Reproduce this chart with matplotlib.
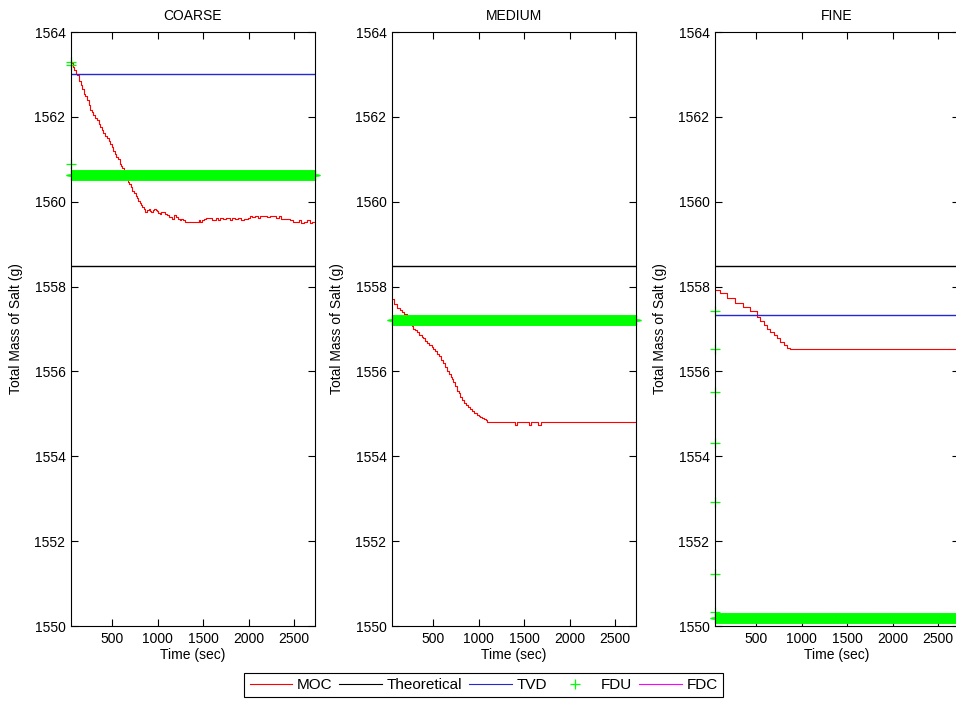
import matplotlib.pyplot as plt
from matplotlib.lines import Line2D
import numpy as np

plt.rcParams['font.family'] = ['Liberation Sans', 'DejaVu Sans']
plt.rcParams['font.size'] = 10

titles = ['COARSE', 'MEDIUM', 'FINE']
theoretical = 1558.48
tvd = {'COARSE': 1563.0, 'FINE': 1557.33}

# MOC (step curves)
moc_t = {
    'COARSE': [45, 65, 80, 95, 110, 130, 150, 170, 185, 200, 220, 240, 255, 275, 290, 310, 330,
               350, 365, 385, 400, 420, 440, 460, 475, 495, 510, 530, 545, 565, 580, 600, 610,
               625, 640, 655, 670, 685, 700, 720, 735, 755, 770, 785, 800, 815, 830, 845, 860,
               880, 900, 915, 930, 945, 960, 975, 990, 1005, 1020, 1040, 1060, 1080, 1100, 1120,
               1140, 1160, 1180, 1200, 1220, 1240, 1260, 1280, 1300, 1340, 1380, 1420, 1450, 1470,
               1490, 1510, 1530, 1560, 1600, 1640, 1660, 1690, 1720, 1750, 1790, 1820, 1850, 1880,
               1920, 1950, 1990, 2010, 2040, 2070, 2100, 2130, 2160, 2200, 2240, 2270, 2300, 2330,
               2360, 2400, 2430, 2460, 2490, 2520, 2550, 2580, 2610, 2640, 2670, 2700, 2730],
    'MEDIUM': [45, 70, 100, 130, 152, 180, 210, 240, 265, 280, 300, 320, 345, 370, 391, 410, 430,
               455, 480, 501, 520, 540, 560, 585, 611, 630, 650, 670, 690, 704, 720, 740, 760,
               780, 796, 815, 835, 855, 880, 906, 930, 950, 975, 1000, 1017, 1040, 1060, 1075,
               1090, 1110, 1400, 1425, 1550, 1570, 1650, 1680, 1700, 2730],
    'FINE': [45, 101, 174, 266, 358, 431, 505, 542, 579, 615, 652, 689, 726, 763, 800, 836, 873,
             2730],
}
moc_v = {
    'COARSE': [1563.28, 1563.18, 1563.1, 1563.02, 1562.99, 1562.85, 1562.75, 1562.66, 1562.55,
               1562.5, 1562.4, 1562.28, 1562.16, 1562.12, 1562.05, 1561.98, 1561.92, 1561.84,
               1561.75, 1561.7, 1561.61, 1561.56, 1561.5, 1561.42, 1561.37, 1561.28, 1561.2,
               1561.12, 1561.06, 1561.0, 1560.9, 1560.84, 1560.79, 1560.7, 1560.62, 1560.55,
               1560.47, 1560.42, 1560.35, 1560.26, 1560.2, 1560.14, 1560.08, 1560.02, 1559.96,
               1559.92, 1559.88, 1559.84, 1559.76, 1559.8, 1559.82, 1559.78, 1559.76, 1559.8,
               1559.84, 1559.8, 1559.78, 1559.74, 1559.72, 1559.76, 1559.76, 1559.72, 1559.68,
               1559.64, 1559.64, 1559.6, 1559.68, 1559.64, 1559.6, 1559.56, 1559.6, 1559.56,
               1559.53, 1559.53, 1559.53, 1559.53, 1559.58, 1559.53, 1559.58, 1559.6, 1559.62,
               1559.62, 1559.56, 1559.62, 1559.58, 1559.62, 1559.6, 1559.62, 1559.56, 1559.62,
               1559.6, 1559.62, 1559.56, 1559.6, 1559.62, 1559.67, 1559.64, 1559.67, 1559.62,
               1559.67, 1559.67, 1559.64, 1559.67, 1559.67, 1559.62, 1559.67, 1559.6, 1559.6,
               1559.6, 1559.56, 1559.53, 1559.53, 1559.56, 1559.5, 1559.53, 1559.56, 1559.5,
               1559.53, 1559.53],
    'MEDIUM': [1557.7, 1557.6, 1557.5, 1557.45, 1557.4, 1557.35, 1557.25, 1557.15, 1557.08, 1557.01,
               1556.98, 1556.92, 1556.86, 1556.82, 1556.78, 1556.72, 1556.66, 1556.62, 1556.58,
               1556.54, 1556.48, 1556.42, 1556.36, 1556.28, 1556.19, 1556.1, 1556.02, 1555.95,
               1555.88, 1555.83, 1555.75, 1555.65, 1555.55, 1555.48, 1555.4, 1555.32, 1555.26,
               1555.2, 1555.16, 1555.12, 1555.06, 1555.02, 1554.98, 1554.95, 1554.93, 1554.9,
               1554.87, 1554.85, 1554.81, 1554.81, 1554.73, 1554.81, 1554.73, 1554.81, 1554.73,
               1554.81, 1554.81, 1554.81],
    'FINE': [1557.93, 1557.84, 1557.72, 1557.62, 1557.52, 1557.43, 1557.29, 1557.19, 1557.09,
             1557.01, 1556.93, 1556.86, 1556.78, 1556.7, 1556.62, 1556.56, 1556.52, 1556.52],
}

# FDU: first few outputs, then settles to a constant level
fdu_start = {'COARSE': [1563.3, 1563.22, 1560.9],
             'MEDIUM': [],
             'FINE': [1557.42, 1556.52, 1555.51, 1554.31, 1552.92, 1551.22, 1550.32]}
fdu_level = {'COARSE': 1560.62, 'MEDIUM': 1557.21, 'FINE': 1550.2}
fdu_dt = 3

lefts = [71, 392, 715]
fig = plt.figure(figsize=(9.56, 7.02), dpi=100)
green = (0, 1, 0)
blue = (0.15, 0.15, 0.85)

for i, name in enumerate(titles):
    ax = fig.add_axes([lefts[i] / 956, 1 - 626 / 702, 244 / 956, 594 / 702])
    t_end = moc_t[name][-1]
    ax.plot(moc_t[name], moc_v[name], color='red', lw=0.8, drawstyle='steps-post')
    ax.axhline(theoretical, color='black', lw=1.0)
    if name in tvd:
        ax.axhline(tvd[name], color=blue, lw=1.0)
    fdu_t = np.arange(45, t_end + 1, fdu_dt)
    fdu_v = np.full(len(fdu_t), fdu_level[name])
    ax.plot(np.full(len(fdu_start[name]), 45), fdu_start[name], '+', color=green,
            ms=7, mew=0.9, clip_on=False)
    ax.plot(fdu_t, fdu_v, '+', color=green, ms=7, mew=0.9, clip_on=False)

    ax.set_xlim(45, 2730)
    ax.set_ylim(1550, 1564)
    ax.set_xticks([500, 1000, 1500, 2000, 2500])
    ax.set_yticks(range(1550, 1565, 2))
    ax.tick_params(direction='in', length=5, top=True, right=True, labelsize=10, pad=4)
    ax.set_title(name, fontsize=10, pad=9)
    ax.set_xlabel('Time (sec)', fontsize=10, labelpad=2)
    ax.set_ylabel('Total Mass of Salt (g)', fontsize=10, labelpad=8)
    for s in ax.spines.values():
        s.set_linewidth(0.8)

handles = [Line2D([], [], color='red', lw=0.8),
           Line2D([], [], color='black', lw=0.8),
           Line2D([], [], color=blue, lw=0.8),
           Line2D([], [], color=green, marker='+', ls='none', ms=7, mew=0.9),
           Line2D([], [], color='magenta', lw=0.8)]
labels = ['MOC', 'Theoretical', 'TVD', 'FDU', 'FDC']
leg = fig.legend(handles, labels, loc='lower center', bbox_to_anchor=(0.506, 0.0), ncol=5,
                 frameon=True, fancybox=False, framealpha=1, edgecolor='black',
                 handlelength=2.8, handletextpad=0.3, columnspacing=0.45, fontsize=11,
                 borderpad=0.35, borderaxespad=0.3)
leg.get_frame().set_linewidth(0.8)

fig.savefig('out.png', dpi=100)
